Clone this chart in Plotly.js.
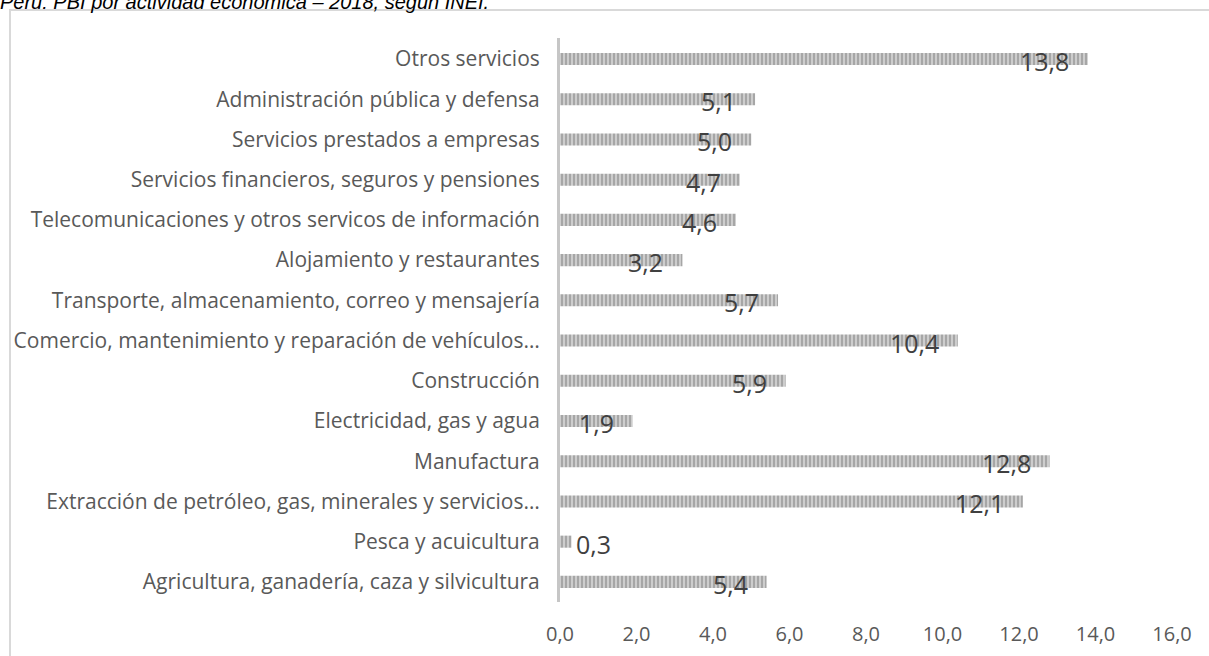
<!DOCTYPE html>
<html>
<head>
<meta charset="utf-8">
<script src="https://cdn.plot.ly/plotly-3.0.1.min.js"></script>
<style>
  html, body { margin: 0; padding: 0; background: #ffffff; overflow: hidden; }
  #chart { width: 1209px; height: 656px; }
</style>
</head>
<body>
<div id="chart"></div>
<script>
// Categories, top to bottom as shown
const categories = [
  "Otros servicios",
  "Administración pública y defensa",
  "Servicios prestados a empresas",
  "Servicios financieros, seguros y pensiones",
  "Telecomunicaciones y otros servicos de información",
  "Alojamiento y restaurantes",
  "Transporte, almacenamiento, correo y mensajería",
  "Comercio, mantenimiento y reparación de vehículos…",
  "Construcción",
  "Electricidad, gas y agua",
  "Manufactura",
  "Extracción de petróleo, gas, minerales y servicios…",
  "Pesca y acuicultura",
  "Agricultura, ganadería, caza y silvicultura"
];
const values = [13.8, 5.1, 5.0, 4.7, 4.6, 3.2, 5.7, 10.4, 5.9, 1.9, 12.8, 12.1, 0.3, 5.4];
const valueLabels = ["13,8", "5,1", "5,0", "4,7", "4,6", "3,2", "5,7", "10,4", "5,9", "1,9", "12,8", "12,1", "0,3", "5,4"];
const xTickVals = [0, 2, 4, 6, 8, 10, 12, 14, 16];
const xTickText = ["0,0", "2,0", "4,0", "6,0", "8,0", "10,0", "12,0", "14,0", "16,0"];
const chartTitle = "Perú: PBI por actividad económica – 2018, según INEI.";

const labelFont = "'Open Sans', Lato, sans-serif";

const trace = {
  type: "bar",
  orientation: "h",
  x: values,
  y: categories,
  marker: {
    color: "#cdcdcd",
    line: { width: 0 },
    pattern: { shape: "|", fgcolor: "#a6a6a6", bgcolor: "#cdcdcd", size: 4, solidity: 0.5 }
  },
  hoverinfo: "skip",
  showlegend: false
};

const annotations = values.map((v, i) => {
  const outside = v < 1;
  return {
    x: v, y: categories[i], xref: "x", yref: "y",
    text: valueLabels[i],
    showarrow: false,
    xanchor: outside ? "left" : "right",
    yanchor: "middle",
    xshift: outside ? 3 : -17,
    yshift: -2,
    font: { family: labelFont, size: 25, color: "#404040" }
  };
});

const layout = {
  width: 1209, height: 656,
  paper_bgcolor: "#ffffff",
  plot_bgcolor: "#ffffff",
  margin: { l: 560, r: 37, t: 38, b: 54, pad: 0 },
  bargap: 0.7,
  title: {
    text: chartTitle,
    x: 0, xref: "container", xanchor: "left",
    y: 0.997, yref: "container", yanchor: "middle",
    font: { family: "'Liberation Sans', Arial, sans-serif", size: 20, style: "italic", color: "#000000" }
  },
  xaxis: {
    range: [0, 16],
    tickvals: xTickVals,
    ticktext: xTickText,
    showgrid: false,
    zeroline: false,
    showline: false,
    ticks: "",
    ticklabelstandoff: 18,
    tickfont: { family: labelFont, size: 20, color: "#595959" },
    fixedrange: true
  },
  yaxis: {
    autorange: "reversed",
    showgrid: false,
    zeroline: false,
    showline: true,
    linecolor: "#c6c6c6",
    linewidth: 3,
    ticks: "",
    ticklabelstandoff: 13,
    tickfont: { family: labelFont, size: 21, color: "#595959" },
    fixedrange: true
  },
  shapes: [{
    type: "rect", xref: "paper", yref: "paper",
    x0: (10 - 560) / 612, x1: 1.3,
    y0: -0.3, y1: (602 - 10) / 564,
    line: { color: "#d9d9d9", width: 2 },
    fillcolor: "rgba(0,0,0,0)",
    layer: "below"
  }],
  annotations: annotations
};

Plotly.newPlot("chart", [trace], layout, { displayModeBar: false, staticPlot: true });
</script>
</body>
</html>
